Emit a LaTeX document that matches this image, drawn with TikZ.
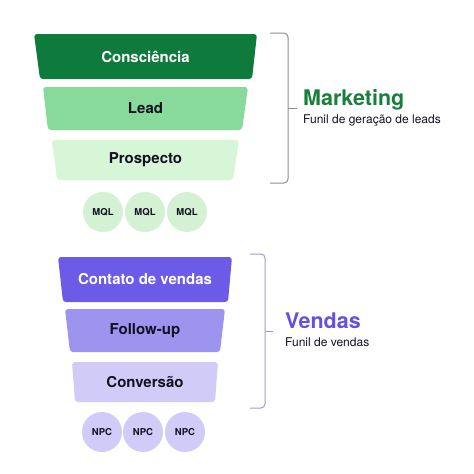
\documentclass[tikz,border=0pt]{standalone}
\usepackage{fontspec}
\setmainfont{TeX Gyre Heros}
\definecolor{mktdark}{HTML}{0E7A3B}
\definecolor{mktmid}{HTML}{88DA9B}
\definecolor{mktlight}{HTML}{D7F6D7}
\definecolor{mktdot}{HTML}{D4F1D4}
\definecolor{mkttext}{HTML}{1A7F3C}
\definecolor{mktline}{HTML}{8C908C}
\definecolor{vnddark}{HTML}{6B5BE6}
\definecolor{vndmid}{HTML}{9D94F0}
\definecolor{vndlight}{HTML}{D0CCF7}
\definecolor{vndtext}{HTML}{6650E3}
\definecolor{vndline}{HTML}{9E9CC8}
\definecolor{ink}{HTML}{111122}

\begin{document}
\begin{tikzpicture}[x=1pt, y=-1pt,
  funnel/.style={rounded corners=3pt},
  stage/.style={font=\fontsize{15}{17}\selectfont\bfseries, text=ink, inner sep=0pt},
  dot/.style={circle, minimum size=40pt, inner sep=0pt,
              font=\fontsize{9.5}{11}\selectfont\bfseries, text=ink},
  brace/.style={line width=1pt, rounded corners=4pt},
  head/.style={font=\fontsize{21.5}{24}\selectfont\bfseries, anchor=base west, inner sep=0pt},
  sub/.style={font=\fontsize{12}{14}\selectfont, text=ink, anchor=west, inner sep=0pt},
]
\useasboundingbox[fill=white] (0,0) rectangle (474,474);

% ── Marketing funnel ────────────────────────────────────────────────────
\fill[funnel, mktdark]  (34,34)  -- (257,34)  -- (252,79)  -- (40,79)  -- cycle;
\fill[funnel, mktmid]   (43,87)  -- (248,87)  -- (242,130) -- (48,130) -- cycle;
\fill[funnel, mktlight] (52,140) -- (239,140) -- (233,180) -- (57,180) -- cycle;
\node[stage, text=white] (consc) at (145.5,56.5) {Consciência};
\node[stage] (lead) at (145.5,108.5) {Lead};
\node[stage] (prosp) at (145.5,160) {Prospecto};

\node[dot, fill=mktdot] (mql1) at (103,212) {MQL};
\node[dot, fill=mktdot] (mql2) at (145,212) {MQL};
\node[dot, fill=mktdot] (mql3) at (187,212) {MQL};

% ── Sales funnel ────────────────────────────────────────────────────────
\fill[funnel, vnddark]  (58,257) -- (232,257) -- (228,302) -- (63,302) -- cycle;
\fill[funnel, vndmid]   (65,309) -- (225,309) -- (220,352) -- (70,352) -- cycle;
\fill[funnel, vndlight] (72,362) -- (218,362) -- (215,402) -- (75,402) -- cycle;
\node[stage, text=white] (contato) at (145,279.5) {Contato de vendas};
\node[stage] (follow) at (145,330.5) {Follow-up};
\node[stage] (conv) at (145,382) {Conversão};

\node[dot, fill=vndlight] (npc1) at (102,432) {NPC};
\node[dot, fill=vndlight] (npc2) at (143,432) {NPC};
\node[dot, fill=vndlight] (npc3) at (185,432) {NPC};

% ── Brackets + labels ───────────────────────────────────────────────────
\draw[brace, draw=mktline] (270,33) -- (288,33) -- (288,183) -- (270,183);
\draw[draw=mktline, line width=1pt] (288,108) -- (297,108);
\node[head, text=mkttext] (mkt) at (303,105) {Marketing};
\node[sub] (mktsub) at (303,121) {Funil de geração de leads};

\draw[brace, draw=vndline] (250,254) -- (265,254) -- (265,408) -- (250,408);
\draw[draw=vndline, line width=1pt] (265,331) -- (273,331);
\node[head, text=vndtext] (vnd) at (285,328) {Vendas};
\node[sub] (vndsub) at (285,342) {Funil de vendas};

\end{tikzpicture}
\end{document}
